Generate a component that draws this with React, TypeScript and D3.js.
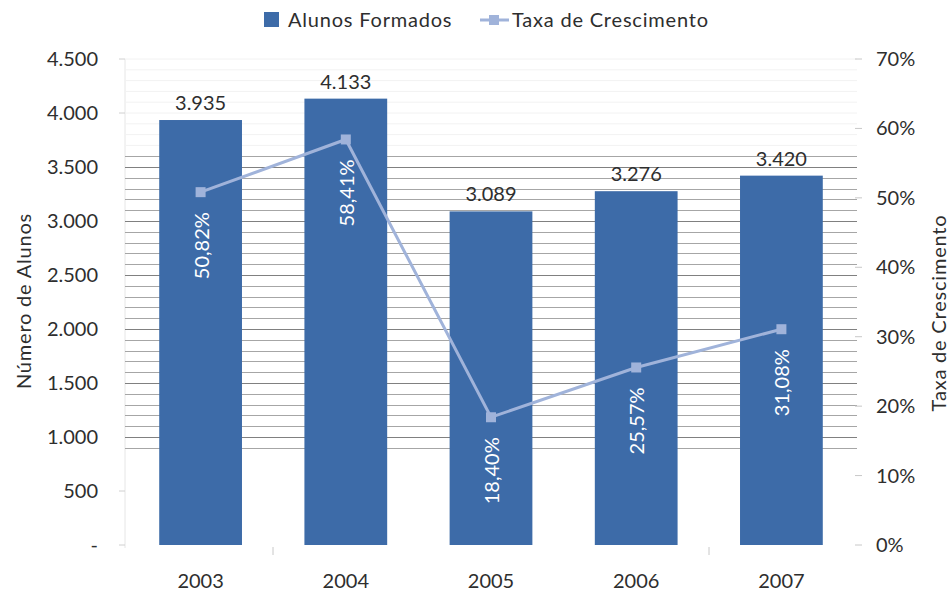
import React from "react";
import * as d3 from "d3";

const years = ["2003", "2004", "2005", "2006", "2007"];
const alunos = [3935, 4133, 3089, 3276, 3420];
const taxa = [0.5082, 0.5841, 0.184, 0.2557, 0.3108];
const leftTicks = [0, 500, 1000, 1500, 2000, 2500, 3000, 3500, 4000, 4500];
const rightTicks = [0, 0.1, 0.2, 0.3, 0.4, 0.5, 0.6, 0.7];
const gridValues = d3.range(900, 3601, 100);
const faintGrid = d3.range(3700, 4501, 100);

const W = 951, H = 594;
const FONT = "Lato, 'Open Sans', sans-serif";
const BAR = "#3d6ba8";
const LINE = "#a0b3da";
const TXT = "#2e2e2e";
const FS = 20;

const fmtNum = (v: number) => (v === 0 ? "-" : d3.format(",")(v).replace(/,/g, "."));
const fmtPct = (v: number) => (v * 100).toFixed(2).replace(".", ",") + "%";

export default function App() {
  const x = d3.scaleBand<string>().domain(years).range([128, 854]).paddingInner(0.43).paddingOuter(0.215);
  const y = d3.scaleLinear().domain([0, 4500]).range([545, 59]);
  const y2 = d3.scaleLinear().domain([0, 0.7]).range([545, 59]);
  const cx = (d: string) => (x(d) as number) + x.bandwidth() / 2;
  const line = d3.line<number>().x((_, i) => cx(years[i])).y((d) => y2(d));

  return (
    <svg width={W} height={H} style={{ position: "absolute", left: 0, top: 0, background: "#fff" }} fontFamily={FONT}>
      {/* legend */}
      <rect x={264} y={12} width={15} height={15} fill={BAR} />
      <text x={288} y={27} fontSize={FS} letterSpacing={0.8} fill={TXT}>Alunos Formados</text>
      <line x1={480} x2={509} y1={20} y2={20} stroke={LINE} strokeWidth={3} />
      <rect x={489} y={15} width={10} height={10} fill={LINE} />
      <text x={512} y={27} fontSize={FS} letterSpacing={0.8} fill={TXT}>Taxa de Crescimento</text>

      {/* plot area left edge */}
      <line x1={125} x2={125} y1={59} y2={548} stroke="#e6e6e6" />
      {/* grid */}
      {faintGrid.map((g) => (
        <line key={"f" + g} x1={125} x2={857} y1={y(g)} y2={y(g)} stroke="#f2f2f2" />
      ))}
      {gridValues.map((g) => (
        <line key={g} x1={125} x2={857} y1={Math.round(y(g)) + 0.5} y2={Math.round(y(g)) + 0.5}
          stroke={g % 500 === 0 ? "#808080" : "#a6a6a6"} strokeWidth={1} />
      ))}

      {/* bars */}
      {years.map((yr, i) => (
        <rect key={yr} x={x(yr)} y={y(alunos[i])} width={x.bandwidth()} height={y(0) - y(alunos[i])} fill={BAR} />
      ))}
      {years.map((yr, i) => (
        <text key={"v" + yr} x={cx(yr)} y={y(alunos[i]) - 10} textAnchor="middle" fontSize={FS} fill={TXT}>
          {fmtNum(alunos[i])}
        </text>
      ))}

      {/* line */}
      <path d={line(taxa) as string} fill="none" stroke={LINE} strokeWidth={3} />
      {taxa.map((t, i) => (
        <rect key={"m" + i} x={cx(years[i]) - 5} y={y2(t) - 5} width={10} height={10} fill={LINE} />
      ))}
      {taxa.map((t, i) => (
        <text key={"p" + i} transform={`translate(${cx(years[i]) + 8},${y2(t) + 20}) rotate(-90)`}
          textAnchor="end" fontSize={FS} fill="#fff">
          {fmtPct(t)}
        </text>
      ))}

      {/* left axis */}
      {leftTicks.map((t) => (
        <g key={"l" + t}>
          {t % 500 === 0 && t >= 1000 && t <= 3500 ? null : (
            <line x1={119} x2={125} y1={y(t)} y2={y(t)} stroke="#d0d0d0" />
          )}
          <text x={98} y={y(t) + 7} textAnchor="end" fontSize={FS} fill={TXT}>
            {fmtNum(t)}
          </text>
        </g>
      ))}
      <text transform={`translate(31,${301}) rotate(-90)`} textAnchor="middle" fontSize={FS} letterSpacing={0.8} fill={TXT}>
        Número de Alunos
      </text>

      {/* right axis */}
      {rightTicks.map((t) => (
        <g key={"r" + t}>
          <line x1={855} x2={862} y1={y2(t)} y2={y2(t)} stroke="#c8c8c8" />
          <text x={876} y={y2(t) + 7} fontSize={FS} fill={TXT}>
            {Math.round(t * 100) + "%"}
          </text>
        </g>
      ))}
      <text transform={`translate(946,${313}) rotate(-90)`} textAnchor="middle" fontSize={FS} letterSpacing={0.8} fill={TXT}>
        Taxa de Crescimento
      </text>

      {/* x axis */}
      {years.map((yr) => (
        <text key={"x" + yr} x={cx(yr)} y={588} textAnchor="middle" fontSize={FS} fill={TXT}>
          {yr}
        </text>
      ))}
      <line x1={273} x2={273} y1={547} y2={555} stroke="#c8c8c8" />
      <line x1={709} x2={709} y1={547} y2={555} stroke="#c8c8c8" />
    </svg>
  );
}
